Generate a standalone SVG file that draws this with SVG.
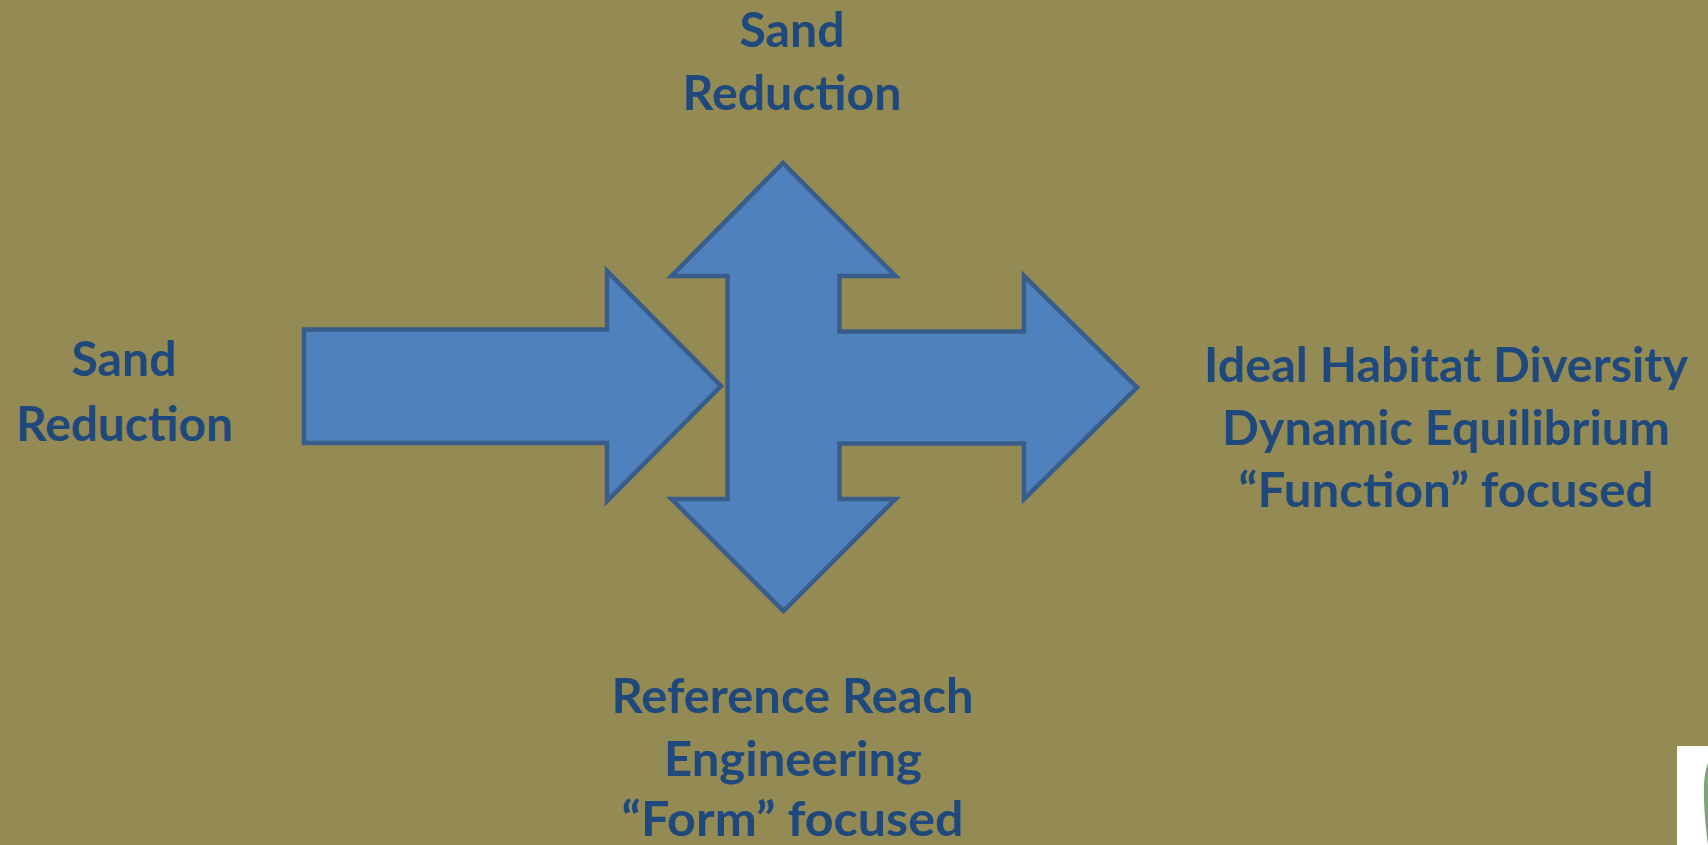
<svg xmlns="http://www.w3.org/2000/svg" width="1708" height="845" viewBox="0 0 1708 845">
  <style>
    .bg { fill: #948A54; }
    .arrow { fill: #4F81BD; stroke: #385D8A; stroke-width: 4.5; stroke-linejoin: miter; }
    .lbl { font-family: Lato, "Open Sans", "Liberation Sans", sans-serif; font-weight: bold; font-size: 48px; fill: #1F497D; text-anchor: middle; }
  </style>
  <rect class="bg" x="0" y="0" width="1708" height="845"/>

  <g id="connectors">
    <polygon id="arrow-in" class="arrow" points="304,329.5 607,329.5 607,271 721,386 607,501 607,443 304,443"/>
    <polygon id="arrow-cross" class="arrow" points="783,163 895.5,276 839.5,276 839.5,331.5 1024,331.5 1024,276 1137,387.5 1024,499 1024,443.5 839.5,443.5 839.5,499 895.5,499 783.5,611 671.5,499 727.5,499 727.5,276 671.5,276"/>
  </g>

  <g id="node-top">
    <text class="lbl" x="792" y="47" textLength="105" lengthAdjust="spacingAndGlyphs">Sand</text>
    <text class="lbl" x="792" y="110" textLength="219" lengthAdjust="spacingAndGlyphs">Reduction</text>
  </g>

  <g id="node-left">
    <text class="lbl" x="124" y="376" textLength="105" lengthAdjust="spacingAndGlyphs">Sand</text>
    <text class="lbl" x="124.5" y="441" textLength="217" lengthAdjust="spacingAndGlyphs">Reduction</text>
  </g>

  <g id="node-right">
    <text class="lbl" x="1446" y="382" textLength="484" lengthAdjust="spacingAndGlyphs">Ideal Habitat Diversity</text>
    <text class="lbl" x="1446" y="445" textLength="448" lengthAdjust="spacingAndGlyphs">Dynamic Equilibrium</text>
    <text class="lbl" x="1446" y="507" textLength="415" lengthAdjust="spacingAndGlyphs">“Function” focused</text>
  </g>

  <g id="node-bottom">
    <text class="lbl" x="792.5" y="713" textLength="362" lengthAdjust="spacingAndGlyphs">Reference Reach</text>
    <text class="lbl" x="793" y="776" textLength="258" lengthAdjust="spacingAndGlyphs">Engineering</text>
    <text class="lbl" x="792.5" y="836" textLength="342" lengthAdjust="spacingAndGlyphs">“Form” focused</text>
  </g>

  <g id="logo-fragment">
    <rect x="1677" y="746" width="31" height="99" fill="#FFFFFF"/>
    <path d="M1708,763 Q1703,775 1704,800 Q1705,825 1708,845 Z" fill="#7FA47A"/>
  </g>
</svg>
